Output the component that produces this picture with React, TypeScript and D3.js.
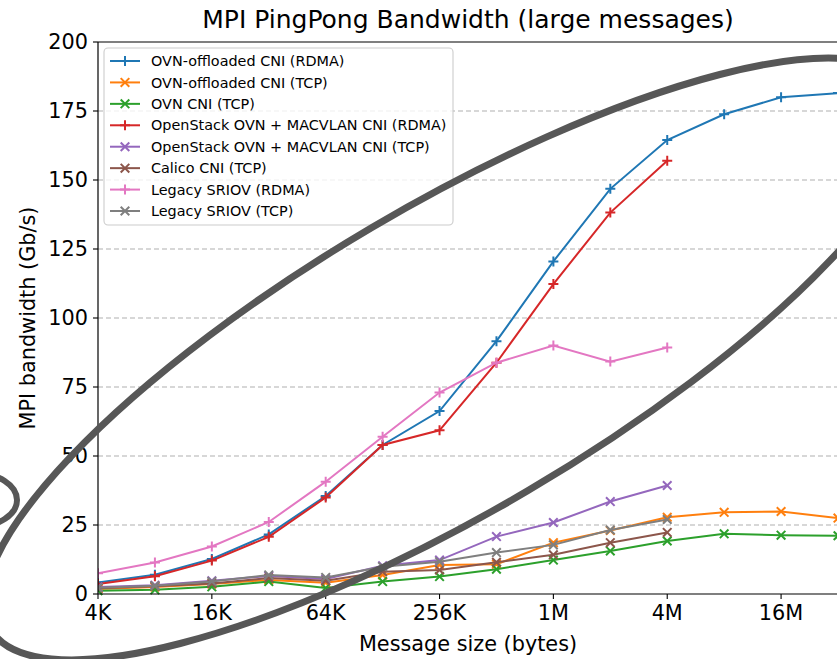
import React from "react";
import * as d3 from "d3";

const sizes = [4096, 8192, 16384, 32768, 65536, 131072, 262144, 524288, 1048576, 2097152, 4194304, 8388608, 16777216, 33554432];
const tickValues = [4096, 16384, 65536, 262144, 1048576, 4194304, 16777216];
const tickLabels = ["4K", "16K", "64K", "256K", "1M", "4M", "16M"];
const yTicks = [0, 25, 50, 75, 100, 125, 150, 175, 200];

const ovnOffRdma = [4.2, 7.0, 12.7, 21.6, 35.5, 54.0, 66.3, 91.6, 120.5, 146.8, 164.5, 173.8, 180.0, 181.5];
const ovnOffTcp = [1.8, 2.5, 3.6, 5.1, 4.1, 6.9, 10.5, 10.8, 18.6, 23.0, 27.8, 29.6, 29.9, 27.5];
const ovnTcp = [1.2, 1.5, 2.6, 4.5, 2.2, 4.5, 6.3, 9.0, 12.3, 15.6, 19.2, 21.8, 21.3, 21.1];
const osRdma = [3.6, 6.4, 12.1, 20.7, 35.0, 54.0, 59.3, 83.8, 112.3, 138.2, 157.0];
const osTcp = [2.5, 3.2, 4.8, 6.5, 5.4, 10.2, 12.3, 20.8, 25.9, 33.5, 39.3];
const calicoTcp = [2.1, 2.8, 3.8, 5.8, 4.8, 8.1, 8.7, 11.5, 14.2, 18.6, 22.3];
const sriovRdma = [7.5, 11.4, 17.2, 26.1, 40.7, 57.0, 73.0, 83.8, 90.0, 84.2, 89.3];
const sriovTcp = [2.3, 3.0, 4.5, 6.9, 6.0, 9.9, 11.7, 15.0, 17.8, 23.2, 27.0];

const seriesNames = [
  "OVN-offloaded CNI (RDMA)",
  "OVN-offloaded CNI (TCP)",
  "OVN CNI (TCP)",
  "OpenStack OVN + MACVLAN CNI (RDMA)",
  "OpenStack OVN + MACVLAN CNI (TCP)",
  "Calico CNI (TCP)",
  "Legacy SRIOV (RDMA)",
  "Legacy SRIOV (TCP)",
];
const seriesValues = [ovnOffRdma, ovnOffTcp, ovnTcp, osRdma, osTcp, calicoTcp, sriovRdma, sriovTcp];
const seriesMarkers = ["plus", "x", "x", "plus", "x", "x", "plus", "x"];
const seriesColors = ["#1f77b4", "#ff7f0e", "#2ca02c", "#d62728", "#9467bd", "#8c564b", "#e377c2", "#7f7f7f"];

const W = 837;
const H = 659;
const left = 98;
const right = 838;
const top = 42;
const bottom = 594;
const FONT = "DejaVu Sans, sans-serif";

function Marker({ kind, x, y, color }: { kind: string; x: number; y: number; color: string }) {
  const s = 5;
  if (kind === "plus") {
    return (
      <path d={`M${x - s},${y}H${x + s}M${x},${y - s}V${y + s}`} stroke={color} strokeWidth={2} fill="none" />
    );
  }
  const t = 4.3;
  return (
    <path d={`M${x - t},${y - t}L${x + t},${y + t}M${x - t},${y + t}L${x + t},${y - t}`} stroke={color} strokeWidth={2} fill="none" />
  );
}

export default function App() {
  const x = d3.scaleLog().base(2).domain([4096, 33554432]).range([left, right]);
  const y = d3.scaleLinear().domain([0, 200]).range([bottom, top]);
  const line = d3
    .line<number>()
    .x((_, i) => x(sizes[i]))
    .y((d) => y(d));

  const legX = 104;
  const legY = 48;
  const legW = 349;
  const legH = 177;
  const rowY0 = 61;
  const rowStep = 21.43;

  return (
    <svg
      width={W}
      height={H}
      style={{ position: "absolute", left: 0, top: 0, background: "#fff" }}
      fontFamily={FONT}
    >
      <rect x={0} y={0} width={W} height={H} fill="#fff" />
      {/* grid */}
      {yTicks.slice(1, -1).map((t) => (
        <line key={"g" + t} x1={left} x2={right} y1={y(t)} y2={y(t)} stroke="#b0b0b0" strokeWidth={1.1} strokeDasharray="5,3" />
      ))}
      {/* series */}
      <g clipPath="url(#clip)">
        {seriesValues.map((vals, si) => (
          <g key={"s" + si}>
            <path d={line(vals) || ""} fill="none" stroke={seriesColors[si]} strokeWidth={2} />
            {vals.map((v, i) => (
              <Marker key={i} kind={seriesMarkers[si]} x={x(sizes[i])} y={y(v)} color={seriesColors[si]} />
            ))}
          </g>
        ))}
      </g>
      {/* spines */}
      <line x1={left} x2={left} y1={top} y2={bottom} stroke="#000" strokeWidth={1.2} />
      <line x1={left} x2={right} y1={bottom} y2={bottom} stroke="#000" strokeWidth={1.2} />
      <line x1={left} x2={right} y1={top} y2={top} stroke="#000" strokeWidth={1.2} />
      {/* y ticks */}
      {yTicks.map((t) => (
        <g key={"yt" + t}>
          <line x1={left - 5} x2={left} y1={y(t)} y2={y(t)} stroke="#000" strokeWidth={1.1} />
          <text x={left - 10} y={y(t)} dy="0.36em" textAnchor="end" fontSize={20.8} fill="#000">
            {t}
          </text>
        </g>
      ))}
      {/* x ticks */}
      {tickValues.map((t, i) => (
        <g key={"xt" + t}>
          <line x1={x(t)} x2={x(t)} y1={bottom} y2={bottom + 5} stroke="#000" strokeWidth={1.1} />
          <text x={x(t)} y={620} textAnchor="middle" fontSize={20.8} fill="#000">
            {tickLabels[i]}
          </text>
        </g>
      ))}
      {/* labels */}
      <text x={(left + right) / 2} y={651} textAnchor="middle" fontSize={20.8} fill="#000">
        Message size (bytes)
      </text>
      <text transform={`translate(35,${(top + bottom) / 2}) rotate(-90)`} textAnchor="middle" fontSize={20.8} fill="#000">
        MPI bandwidth (Gb/s)
      </text>
      <text x={(left + right) / 2} y={28} textAnchor="middle" fontSize={25} fill="#000">
        MPI PingPong Bandwidth (large messages)
      </text>
      {/* legend */}
      <rect x={legX} y={legY} width={legW} height={legH} rx={4} fill="#fff" fillOpacity={0.8} stroke="#cccccc" strokeWidth={1.1} />
      {seriesNames.map((name, i) => {
        const cy = rowY0 + i * rowStep;
        return (
          <g key={"l" + i}>
            <line x1={110} x2={140} y1={cy} y2={cy} stroke={seriesColors[i]} strokeWidth={2} />
            <Marker kind={seriesMarkers[i]} x={125} y={cy} color={seriesColors[i]} />
            <text x={151} y={cy} dy="0.36em" fontSize={14.4} fill="#000">
              {name}
            </text>
          </g>
        );
      })}
      {/* annotation ellipses */}
      <ellipse cx={450} cy={359} rx={533} ry={153} transform="rotate(-30.5 450 359)" fill="none" stroke="#575757" strokeWidth={7} />
      <ellipse cx={-25} cy={500} rx={42} ry={27} fill="none" stroke="#575757" strokeWidth={6} />
      <defs>
        <clipPath id="clip">
          <rect x={left} y={top - 10} width={right - left + 10} height={bottom - top + 20} />
        </clipPath>
      </defs>
    </svg>
  );
}
